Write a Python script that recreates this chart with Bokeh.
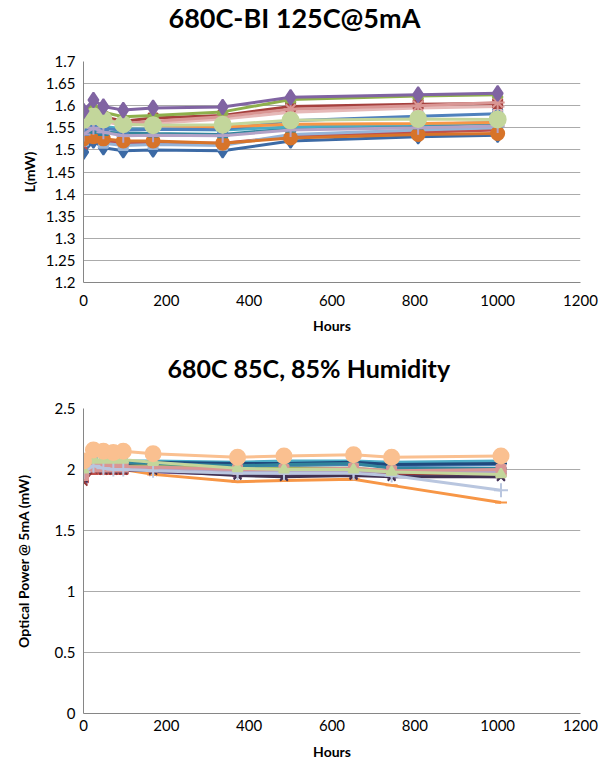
from bokeh.plotting import figure
from bokeh.layouts import column
from bokeh.models import FixedTicker, Range1d
from bokeh.embed import file_html
from bokeh.resources import INLINE

# ---------------- data: top chart (125C burn-in) ----------------
top_title = "680C-BI 125C@5mA"
top_hours = [0, 24, 48, 96, 168, 336, 500, 808, 1000]
top_yticks = [1.2, 1.25, 1.3, 1.35, 1.4, 1.45, 1.5, 1.55, 1.6, 1.65, 1.7]
top_xticks = [0, 200, 400, 600, 800, 1000, 1200]

t_s01 = [1.495, 1.520, 1.505, 1.498, 1.500, 1.498, 1.520, 1.530, 1.533]
t_s02 = [1.510, 1.525, 1.520, 1.515, 1.516, 1.515, 1.530, 1.540, 1.545]
t_s03 = [1.520, 1.535, 1.515, 1.510, 1.512, 1.510, 1.535, 1.545, 1.550]
t_s04 = [1.525, 1.530, 1.525, 1.520, 1.520, 1.515, 1.527, 1.535, 1.537]
t_s05 = [1.540, 1.545, 1.540, 1.538, 1.537, 1.535, 1.548, 1.555, 1.560]
t_s06 = [1.555, 1.560, 1.553, 1.548, 1.547, 1.545, 1.552, 1.558, 1.562]
t_s07 = [1.545, 1.555, 1.548, 1.545, 1.546, 1.546, 1.566, 1.576, 1.582]
t_s08 = [1.575, 1.590, 1.570, 1.560, 1.556, 1.552, 1.558, 1.560, 1.562]
t_s09 = [1.560, 1.570, 1.565, 1.555, 1.560, 1.570, 1.585, 1.595, 1.598]
t_s10 = [1.570, 1.580, 1.575, 1.565, 1.572, 1.578, 1.598, 1.603, 1.605]
t_s11 = [1.565, 1.575, 1.570, 1.560, 1.565, 1.575, 1.592, 1.600, 1.607]
t_s12 = [1.580, 1.600, 1.585, 1.575, 1.578, 1.586, 1.614, 1.622, 1.625]
t_s13 = [1.535, 1.550, 1.540, 1.532, 1.533, 1.532, 1.545, 1.550, 1.554]
t_s14 = [1.568, 1.576, 1.569, 1.558, 1.556, 1.557, 1.567, 1.570, 1.569]
t_s15 = [1.588, 1.613, 1.598, 1.590, 1.595, 1.597, 1.619, 1.625, 1.628]

top_series = [t_s01, t_s02, t_s03, t_s04, t_s05, t_s06, t_s07, t_s08,
              t_s09, t_s10, t_s11, t_s12, t_s13, t_s14, t_s15]
top_colors = ["#3C6AA5", "#C0504D", "#95B3D7", "#D7742A", "#31859C", "#4BACC6",
              "#4F81BD", "#F79646", "#E6B9B8", "#A5403D", "#D99694", "#8EB04C",
              "#B3A2C7", "#C3D69B", "#8064A2"]
top_markers = ["diamond", "x", "square", "circle", "triangle", "asterisk",
               "square", "triangle", "asterisk", "square", "asterisk", "triangle",
               "cross", "circle", "diamond"]
top_sizes = [14, 10, 9, 13, 10, 12, 9, 10, 14, 9, 14, 10, 14, 16, 15]

# ---------------- data: bottom chart (85C / 85% RH) ----------------
bot_title = "680C 85C, 85% Humidity"
bot_hours = [0, 24, 48, 72, 96, 168, 372, 484, 652, 744, 1008]
bot_yticks = [0, 0.5, 1, 1.5, 2, 2.5]
bot_xticks = [0, 200, 400, 600, 800, 1000, 1200]

b_s01 = [1.97, 2.04, 2.03, 2.03, 2.03, 2.03, 2.02, 2.03, 2.04, 2.03, 2.04]
b_s02 = [1.93, 2.00, 2.00, 2.00, 2.00, 2.00, 1.98, 1.98, 1.99, 1.98, 1.98]
b_s03 = [1.98, 2.05, 2.04, 2.04, 2.04, 2.03, 2.00, 2.01, 2.01, 1.99, 1.99]
b_s04 = [1.92, 2.01, 2.00, 2.00, 2.00, 1.98, 1.96, 1.96, 1.96, 1.95, 1.94]
b_s05 = [1.95, 2.07, 2.07, 2.07, 2.07, 2.07, 2.06, 2.07, 2.07, 2.06, 2.07]
b_s06 = [1.98, 2.00, 2.00, 2.00, 2.00, 1.96, 1.90, 1.91, 1.92, 1.87, 1.73]
b_s07 = [1.96, 2.05, 2.05, 2.05, 2.05, 2.06, 2.05, 2.05, 2.06, 2.04, 2.05]
b_s08 = [1.90, 2.00, 1.99, 1.99, 1.99, 2.00, 1.99, 1.98, 1.98, 1.97, 1.96]
b_s09 = [1.93, 2.01, 2.00, 2.00, 2.00, 1.99, 1.95, 1.94, 1.95, 1.94, 1.94]
b_s10 = [1.97, 2.06, 2.06, 2.06, 2.06, 2.05, 2.03, 2.04, 2.05, 2.01, 2.01]
b_s11 = [1.96, 2.03, 2.02, 2.02, 2.02, 2.01, 1.99, 1.99, 1.99, 1.98, 1.98]
b_s12 = [1.95, 2.02, 2.02, 2.02, 2.02, 2.02, 2.00, 2.00, 2.01, 1.99, 2.00]
b_s13 = [1.98, 2.03, 2.01, 2.00, 2.00, 1.99, 1.97, 1.97, 1.97, 1.95, 1.83]
b_s14 = [2.00, 2.08, 2.08, 2.08, 2.08, 2.06, 2.01, 2.00, 2.00, 1.98, 1.96]
b_s15 = [2.07, 2.16, 2.15, 2.14, 2.15, 2.13, 2.10, 2.11, 2.12, 2.10, 2.11]

bot_series = [b_s01, b_s02, b_s03, b_s04, b_s05, b_s06, b_s07, b_s08,
              b_s09, b_s10, b_s11, b_s12, b_s13, b_s14, b_s15]
bot_colors = ["#4F81BD", "#C0504D", "#9BBB59", "#8064A2", "#4BACC6", "#F79646",
              "#1F497D", "#943634", "#403151", "#31859C", "#B3A2C7", "#D99694",
              "#B9C6DF", "#C3D69B", "#FAC090"]
bot_markers = ["diamond", "square", "triangle", "x", "asterisk", "dash",
               "cross", "x", "x", "asterisk", "cross", "square",
               "cross", "triangle", "circle"]
bot_sizes = [10, 9, 10, 11, 11, 12, 12, 11, 11, 11, 12, 9, 14, 10, 15]

FONT = "Lato"
GRID = "#ABABAB"
AXIS = "#868686"


def style(p, xticks, yticks, xlabel, ylabel, ylab_standoff, title_px, title_offset,
          xlab_standoff, xlabel_standoff):
    p.xaxis.ticker = FixedTicker(ticks=xticks)
    p.yaxis.ticker = FixedTicker(ticks=yticks)
    for ax in (p.xaxis[0], p.yaxis[0]):
        ax.axis_line_color = AXIS
        ax.major_tick_line_color = None
        ax.major_tick_out = 0
        ax.major_tick_in = 0
        ax.minor_tick_line_color = None
        ax.major_label_text_font = FONT
        ax.major_label_text_font_size = "15px"
        ax.major_label_text_color = "#000000"
        ax.axis_label_text_font = FONT
        ax.axis_label_text_font_size = "14px"
        ax.axis_label_text_font_style = "bold"
        ax.axis_label_text_color = "#000000"
    p.xaxis.axis_label = xlabel
    p.yaxis.axis_label = ylabel
    p.xaxis.major_label_standoff = xlab_standoff
    p.yaxis.major_label_standoff = 8
    p.xaxis.axis_label_standoff = xlabel_standoff
    p.yaxis.axis_label_standoff = ylab_standoff
    p.xgrid.grid_line_color = None
    p.ygrid.grid_line_color = GRID
    p.ygrid.grid_line_width = 1
    p.outline_line_color = None
    p.title.text_font = FONT
    p.title.text_font_size = title_px
    p.title.text_font_style = "bold"
    p.title.text_color = "#000000"
    p.title.align = "left"
    p.title.offset = title_offset
    p.title.vertical_align = "top"
    p.title.text_line_height = 0.8
    p.title.standoff = 0


top = figure(width=600, height=345, output_backend="svg", toolbar_location=None,
             x_range=Range1d(0, 1200), y_range=Range1d(1.2, 1.7),
             title=top_title + "\n ",
             min_border_left=83, min_border_right=20, min_border_top=60,
             min_border_bottom=63)
style(top, top_xticks, top_yticks, "Hours", "L(mW)", 5, "27px", 85, 12, 8)
for ys, c, m, s in zip(top_series, top_colors, top_markers, top_sizes):
    top.line(top_hours, ys, line_color=c, line_width=3)
    top.scatter(top_hours, ys, marker=m, size=s, fill_color=c, line_color=c,
                line_width=2)

bot = figure(width=600, height=417, output_backend="svg", toolbar_location=None,
             x_range=Range1d(0, 1200), y_range=Range1d(0, 2.5),
             title=bot_title + "\n ",
             min_border_left=74, min_border_right=15, min_border_top=63,
             min_border_bottom=49)
style(bot, bot_xticks, bot_yticks, "Hours", "Optical Power @ 5mA (mW)", 20, "25px", 84,
      6, 9)
for ys, c, m, s in zip(bot_series, bot_colors, bot_markers, bot_sizes):
    bot.line(bot_hours, ys, line_color=c, line_width=3)
    bot.scatter(bot_hours, ys, marker=m, size=s, fill_color=c, line_color=c,
                line_width=2)

layout = column(top, bot)
open("out.html", "w").write(file_html(layout, INLINE))
